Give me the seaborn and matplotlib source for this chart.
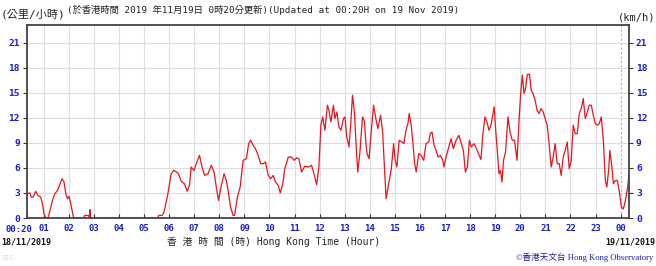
import matplotlib
matplotlib.use("Agg")
import matplotlib.pyplot as plt
import matplotlib.transforms as mtransforms
import seaborn as sns
import pandas as pd

# ---- data (hours since 00:00 on 18/11/2019, wind speed km/h) ----
hours = [0.33,0.45,0.50,0.58,0.68,0.77,0.88,0.95,1.01,1.08,1.17,1.25,1.35,1.44,1.55,1.65,1.73,1.81,1.88,1.95,
         2.01,2.08,2.19,2.60,2.63,2.80,2.82,2.84,2.86,5.55,5.58,5.72,5.78,5.84,5.95,6.08,6.19,6.30,6.37,6.48,
         6.61,6.72,6.81,6.88,6.99,7.08,7.21,7.31,7.41,7.55,7.68,7.79,7.88,7.97,8.08,8.19,8.28,8.35,8.45,8.55,
         8.61,8.72,8.83,8.95,9.08,9.17,9.25,9.35,9.44,9.55,9.65,9.75,9.84,9.95,10.05,10.15,10.24,10.35,10.43,10.53,
         10.61,10.75,10.88,10.99,11.08,11.17,11.28,11.41,11.55,11.68,11.79,11.88,11.97,12.05,12.12,12.21,12.31,12.37,12.45,12.55,
         12.61,12.69,12.77,12.85,12.95,13.01,13.08,13.17,13.24,13.31,13.39,13.45,13.52,13.60,13.71,13.79,13.84,13.89,13.97,14.05,
         14.15,14.24,14.32,14.43,14.51,14.59,14.65,14.75,14.85,14.95,15.01,15.08,15.17,15.28,15.36,15.44,15.52,15.57,15.65,15.72,
         15.79,15.85,15.95,16.05,16.15,16.24,16.35,16.41,16.48,16.56,16.64,16.72,16.81,16.91,16.96,17.04,17.15,17.24,17.33,17.44,
         17.55,17.65,17.73,17.81,17.89,17.97,18.05,18.15,18.24,18.35,18.43,18.51,18.59,18.67,18.75,18.83,18.91,18.96,19.01,19.08,
         19.15,19.21,19.27,19.33,19.41,19.51,19.59,19.68,19.77,19.87,19.95,20.01,20.08,20.15,20.21,20.28,20.37,20.43,20.51,20.59,
         20.67,20.75,20.83,20.91,20.99,21.07,21.15,21.23,21.31,21.39,21.47,21.55,21.63,21.71,21.79,21.87,21.95,22.03,22.11,22.19,
         22.27,22.35,22.43,22.51,22.59,22.67,22.75,22.83,22.91,22.99,23.07,23.15,23.23,23.31,23.39,23.45,23.52,23.57,23.65,23.71,
         23.79,23.87,23.95,24.03,24.11,24.19,24.28,24.33]
speed = [2.9,3.0,2.5,2.5,3.2,2.7,2.5,1.7,0.5,0.0,0.0,0.9,2.1,2.9,3.3,4.1,4.7,4.3,2.9,2.3,
         2.6,1.7,0.0,0.0,0.3,0.3,0.0,1.0,0.0,0.0,0.3,0.3,0.6,1.3,2.9,5.3,5.7,5.5,5.3,4.4,
         4.1,3.2,3.9,6.1,5.7,6.5,7.5,6.1,5.1,5.3,6.3,5.5,3.7,2.1,3.9,5.3,4.5,3.3,1.3,0.3,
         0.3,2.5,3.7,6.9,7.1,8.9,9.3,8.7,8.3,7.5,6.5,6.5,6.7,5.1,4.7,5.1,4.3,3.9,3.0,4.1,
         5.9,7.3,7.3,6.9,7.2,7.1,5.5,6.2,6.1,6.3,5.1,4.0,6.1,11.1,12.1,10.5,13.5,12.9,11.5,13.5,
         11.9,12.7,10.9,10.5,11.9,12.1,9.7,8.5,11.3,14.7,12.5,8.9,5.5,7.7,12.1,11.5,9.1,7.7,7.1,10.1,
         13.5,11.9,10.7,12.3,10.3,5.7,2.3,4.1,5.7,8.9,6.9,6.1,9.3,9.1,8.9,10.5,11.3,12.5,11.1,8.9,
         6.5,5.5,7.7,7.5,6.9,8.9,9.1,10.1,10.3,8.7,8.1,7.3,7.5,6.9,6.1,7.3,8.5,9.5,8.3,9.3,
         9.9,8.9,8.1,5.5,6.1,9.3,8.5,8.9,8.4,7.6,7.0,10.1,12.1,11.5,10.5,11.1,12.5,13.3,10.9,8.1,
         5.3,5.7,4.3,6.9,7.9,12.1,10.3,9.3,9.3,6.9,11.7,14.7,17.1,14.9,15.5,17.2,17.2,15.3,14.9,14.1,
         12.9,12.5,13.1,12.7,11.9,11.1,8.9,6.1,7.3,8.9,6.5,6.5,5.1,7.3,8.1,9.1,5.9,6.9,11.1,10.1,
         10.1,12.5,13.1,14.3,11.9,12.7,13.5,13.5,12.3,11.3,11.1,11.3,12.1,9.3,4.5,3.7,5.7,8.1,6.1,4.1,
         4.5,4.5,3.1,1.3,1.1,2.1,3.7,5.1]

x_ticks = [0.3333] + list(range(1, 25))
x_labels = ["00:20"] + [f"{h:02d}" for h in range(1, 24)] + ["00"]
y_ticks = [0, 3, 6, 9, 12, 15, 18, 21]

df = pd.DataFrame({"hour": hours, "speed": speed})

sns.set_theme(style="white")
plt.rcParams["font.family"] = ["DejaVu Sans Mono", "Noto Sans CJK TC"]

W, H = 656, 266
fig = plt.figure(figsize=(W / 100, H / 100), dpi=100)
ax = fig.add_axes([27 / W, 48 / H, 602 / W, 193 / H])

sns.lineplot(data=df, x="hour", y="speed", ax=ax, color="#e8141e", linewidth=0.9)

ax.set_xlim(0.3333, 24.3333)
ax.set_ylim(0, 23.1)
ax.set_xlabel("")
ax.set_ylabel("")

ax.set_xticks(x_ticks)
ax.set_xticklabels(x_labels)
ax.set_yticks(y_ticks)
ax.set_yticklabels([str(v) for v in y_ticks])

ax.grid(True, color="#dedede", linewidth=0.8)
# midnight dashed line
ax.get_xgridlines()[-1].set_linestyle((0, (2, 2)))
ax.get_xgridlines()[-1].set_color("#b0b0b0")

ax.tick_params(axis="x", direction="in", length=3, width=0.8, colors="#333333",
               labelcolor="#1c1ccc", labelsize=6.5, pad=4, bottom=True)
ax.tick_params(axis="y", direction="out", length=3, width=0.8, colors="#333333",
               labelcolor="#1c1ccc", labelsize=6.8, pad=2, left=True, right=True,
               labelleft=True, labelright=True)
for lab in ax.get_xticklabels() + ax.get_yticklabels():
    lab.set_fontweight("bold")
for t in ax.yaxis.get_major_ticks():
    t.label2.set_fontweight("bold")

# first x label sits left of its tick
first = ax.get_xticklabels()[0]
first.set_horizontalalignment("right")
first.set_transform(first.get_transform() +
                    mtransforms.ScaledTranslation(5 / 100, -1 / 100, fig.dpi_scale_trans))

for s in ax.spines.values():
    s.set_visible(True)
    s.set_color("#444444")
    s.set_linewidth(1.3)

def fy(py):
    return 1 - py / H

fam = ["DejaVu Sans Mono", "Noto Sans CJK TC"]
fig.text(1 / W, fy(14), "(公里/小時)", fontsize=8, family=fam, color="#222222", va="center")
fig.text(67 / W, fy(10), "(於香港時間 2019 年11月19日 0時20分更新)(Updated at 00:20H on 19 Nov 2019)",
         fontsize=6.7, family=fam, color="#222222", va="center")
fig.text(655 / W, fy(18), "(km/h)", fontsize=7.5, family=fam, color="#222222", va="center", ha="right")
fig.text(1 / W, fy(242), "18/11/2019", fontsize=6, family=fam, color="#111111", va="center",
         fontweight="bold")
fig.text(655 / W, fy(242), "19/11/2019", fontsize=6, family=fam, color="#111111", va="center",
         ha="right", fontweight="bold")
fig.text(274 / W, fy(242), "香 港 時 間 (時) Hong Kong Time (Hour)", fontsize=7, family=fam,
         color="#222222", va="center", ha="center")
fig.text(653 / W, fy(257), "©香港天文台 Hong Kong Observatory", fontsize=6.2,
         family=["Liberation Serif", "Noto Sans CJK TC"], color="#1a1aa0", va="center", ha="right")
fig.text(2 / W, fy(258), "SEC", fontsize=5, family=fam, color="#d8d8d8", va="center")

fig.savefig("out.png", dpi=100, facecolor="white")
